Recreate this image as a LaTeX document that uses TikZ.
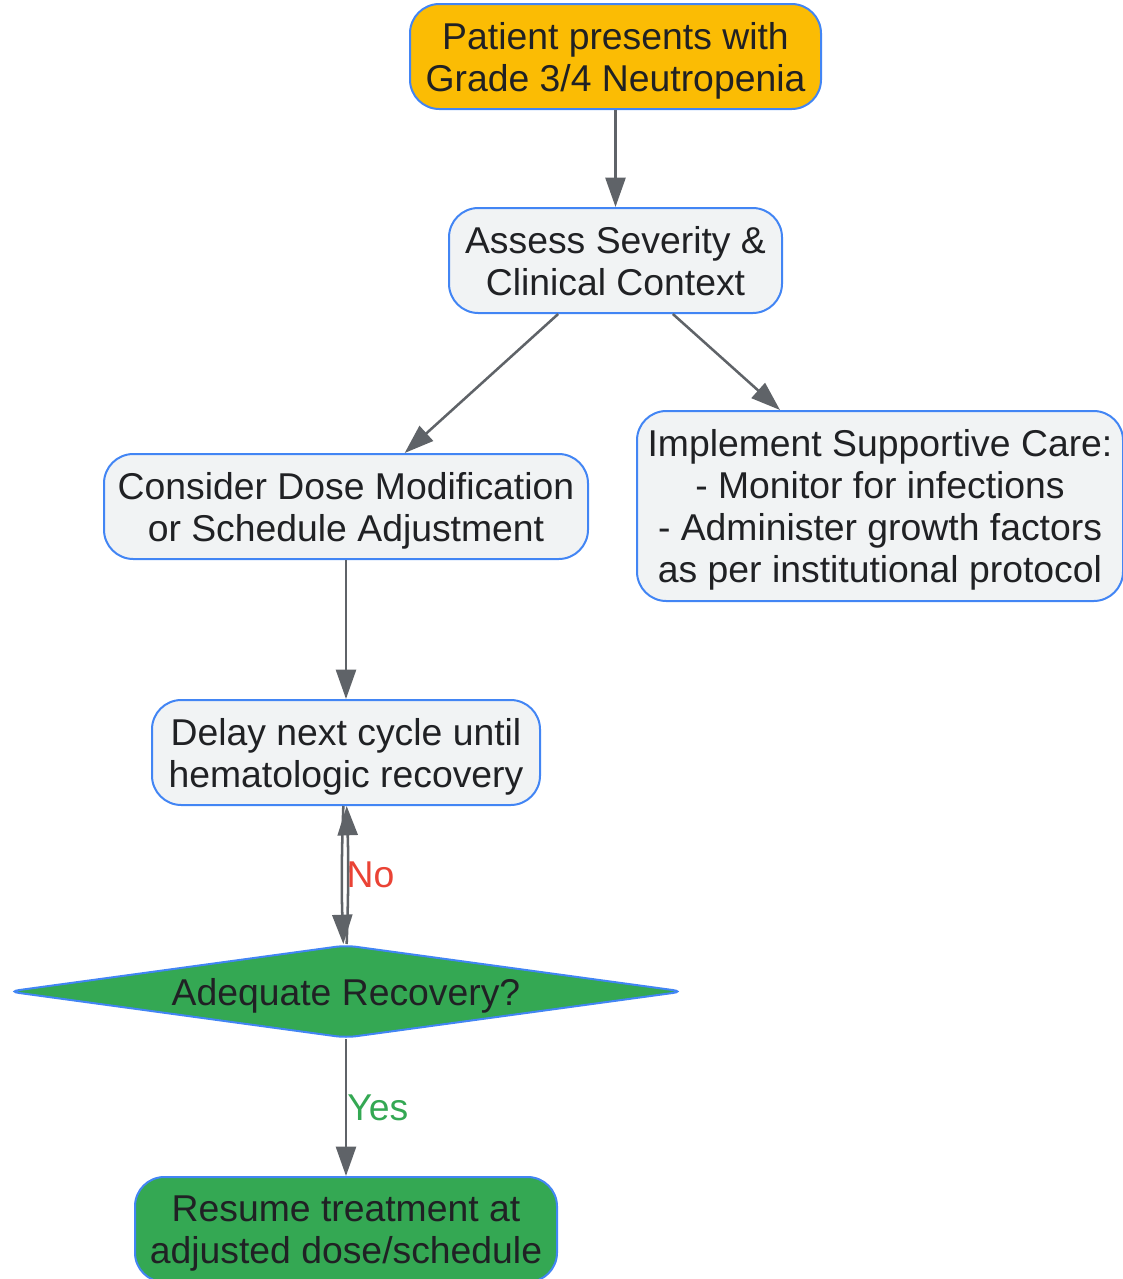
\documentclass[tikz,border=0pt]{standalone}
\usepackage{fontspec}
\setmainfont{Liberation Sans}
\usepackage{xcolor}
\usetikzlibrary{shapes.geometric, arrows.meta, positioning, calc}

\definecolor{boxfill}{HTML}{F1F3F4}
\definecolor{boxline}{HTML}{4285F4}
\definecolor{textdark}{HTML}{202124}
\definecolor{startyellow}{HTML}{FBBC04}
\definecolor{okgreen}{HTML}{34A853}
\definecolor{arrowgray}{HTML}{5F6368}
\definecolor{nored}{HTML}{EA4335}

\def\px{0.75pt}

\begin{document}
\begin{tikzpicture}[x=0.75pt, y=-0.75pt,
    box/.style={draw=boxline, line width=1.5pt, fill=boxfill, rounded corners=22pt,
      align=center, text=textdark, inner sep=0pt, text depth=-0.5pt,
      font=\fontsize{28}{31.5}\selectfont},
    decision/.style={diamond, draw=boxline, line width=1.5pt, fill=okgreen, aspect=7.3,
      rounded corners=8pt, inner sep=0pt, text=textdark, text depth=-0.5pt,
      font=\fontsize{28}{31.5}\selectfont},
    arr/.style={draw=arrowgray, line width=1.9pt, -{Triangle[length=22pt, width=15pt]}},
    lbl/.style={anchor=west, inner sep=0pt, font=\fontsize{28}{31.5}\selectfont}]

  \useasboundingbox (0,0) rectangle (1123,1279);

  % nodes
  \node[box, fill=startyellow, minimum width=411*\px, minimum height=105*\px] (start) at (615.5,56.5)
    {Patient presents with\\Grade 3/4 Neutropenia};
  \node[box, minimum width=333*\px, minimum height=105*\px] (assess) at (615.5,260.5)
    {Assess Severity \&\\Clinical Context};
  \node[box, minimum width=484*\px, minimum height=105*\px] (dose) at (346,506.5)
    {Consider Dose Modification\\or Schedule Adjustment};
  \node[box, minimum width=486*\px, minimum height=190*\px] (support) at (880,506)
    {Implement Supportive Care:\\- Monitor for infections\\- Administer growth factors\\as per institutional protocol};
  \node[box, minimum width=388*\px, minimum height=105*\px] (delay) at (346,752.5)
    {Delay next cycle until\\hematologic recovery};
  \node[decision, minimum width=676*\px, minimum height=93*\px] (check) at (346,991.5)
    {Adequate Recovery?};
  \node[box, fill=okgreen, minimum width=422*\px, minimum height=105*\px] (resume) at (346,1229.5)
    {Resume treatment at\\adjusted dose/schedule};

  % connectors
  \draw[arr] (start) -- (assess);
  \draw[arr] ([xshift=-43pt]assess.south) -- ([xshift=44pt]dose.north);
  \draw[arr] ([xshift=43pt]assess.south) -- ([xshift=-75pt]support.north);
  \draw[arr] (dose) -- (delay);
  \draw[arr] ([xshift=-2pt]delay.south) to[bend right=2] ([xshift=-2pt]check.north);
  \draw[arr] ([xshift=0.5pt]check.north) to[bend right=2]
    node[lbl, text=nored, xshift=-2pt] {No} ([xshift=0.5pt]delay.south);
  \draw[arr] (check) -- node[lbl, text=okgreen] {Yes} (resume);
\end{tikzpicture}
\end{document}
